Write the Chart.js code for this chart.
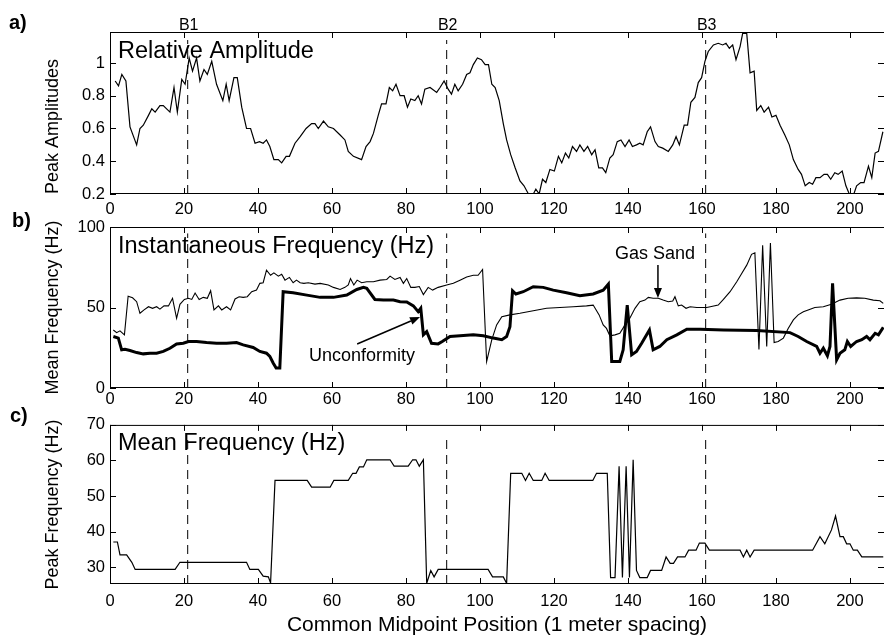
<!DOCTYPE html>
<html><head><meta charset="utf-8">
<script src="https://cdn.jsdelivr.net/npm/chart.js@4.4.1/dist/chart.umd.min.js"></script>
<style>
html,body{margin:0;padding:0;background:#fff;width:884px;height:641px;overflow:hidden;}
.pc{position:absolute;left:0;}
.lab{position:absolute;font:bold 20px 'Liberation Sans',Arial,sans-serif;line-height:20px;color:#000;}
</style></head><body>
<canvas id="ca" class="pc" width="884" height="222" style="top:0px"></canvas>
<canvas id="cb" class="pc" width="884" height="198" style="top:212px"></canvas>
<canvas id="cc" class="pc" width="884" height="231" style="top:410px"></canvas>
<div class="lab" style="left:9px;top:12px">a)</div>
<div class="lab" style="left:12px;top:210px">b)</div>
<div class="lab" style="left:10px;top:405px">c)</div>
<script>
// ---------- data ----------
const cmpTicks = [0,20,40,60,80,100,120,140,160,180,200];
const ampTicks = [0.2,0.4,0.6,0.8,1];
const instTicks = [0,50,100];
const meanTicks = [30,40,50,60,70];
const boundaryPos = [21,91,161];
const boundaryLabels = ['B1','B2','B3'];
const panelTitles = ['Relative Amplitude','Instantaneous Frequency (Hz)','Mean Frequency (Hz)'];
const yTitles = ['Peak Amplitudes','Mean Frequency (Hz)','Peak Frequency (Hz)'];
const xTitle = 'Common Midpoint Position (1 meter spacing)';
const annotTexts = ['Gas Sand','Unconformity'];

const ampX = [1.4,2.3,3.2,4.3,5.4,7.2,8.1,9.0,10.4,11.3,12.2,13.5,14.4,16.2,17.3,18.2,19.4,20.3,21.4,22.3,23.4,24.3,25.4,26.3,27.5,28.8,30.5,31.4,32.2,33.5,34.4,35.6,36.9,38.0,39.2,40.4,41.4,42.3,43.2,44.3,45.5,46.4,47.6,48.5,50.0,51.4,53.0,54.5,55.4,56.3,57.7,59.0,60.4,62.2,63.5,64.4,65.8,68.0,69.2,70.3,71.2,72.5,73.4,74.6,75.5,76.4,77.3,78.4,79.5,80.4,81.3,82.4,83.3,84.2,85.1,86.5,88.3,
89.2,90.3,91.4,92.3,93.2,94.1,95.3,96.4,97.3,98.2,99.3,100.4,101.4,102.3,103.2,104.1,105.2,106.3,107.2,108.3,109.5,110.8,111.9,113.1,114.2,115.1,116.0,116.9,117.8,118.9,120.1,121.2,122.1,123.1,124.0,125.0,126.1,127.0,128.1,129.1,130.2,131.1,132.1,133.1,134.0,135.1,136.0,137.1,138.1,139.2,140.3,141.2,142.3,143.2,144.1,145.2,146.1,147.3,148.2,149.4,150.9,152.1,153.0,153.9,155.2,156.1,157.0,158.1,159.0,159.9,160.8,161.7,163.1,164.4,165.6,166.5,167.4,168.3,169.2,170.3,171.0,172.1,173.0,174.1,174.8,175.9,176.8,178.0,178.9,180.0,181.1,182.4,183.6,184.7,186.0,186.9,187.9,189.0,189.9,190.8,191.9,193.0,193.9,194.8,195.9,196.8,197.9,198.9,200.0,200.9,201.8,202.9,203.8,205.0,205.9,206.8,207.7,208.9];
const ampY = [0.89,0.86,0.93,0.89,0.61,0.50,0.60,0.62,0.68,0.72,0.70,0.74,0.74,0.70,0.85,0.70,0.90,0.87,1.03,0.95,1.03,0.89,0.96,0.93,1.01,0.87,0.77,0.87,0.77,0.91,0.91,0.73,0.60,0.60,0.51,0.52,0.51,0.53,0.49,0.41,0.41,0.39,0.43,0.43,0.51,0.55,0.60,0.63,0.63,0.60,0.645,0.61,0.60,0.56,0.53,0.46,0.43,0.41,0.49,0.52,0.57,0.68,0.75,0.75,0.85,0.83,0.87,0.80,0.80,0.73,0.78,0.77,0.80,0.75,0.84,0.85,0.82,
0.85,0.89,0.84,0.81,0.87,0.83,0.87,0.93,0.94,0.99,1.03,1.02,0.99,0.99,0.87,0.85,0.77,0.63,0.53,0.44,0.36,0.28,0.25,0.20,0.19,0.23,0.20,0.29,0.27,0.35,0.34,0.43,0.39,0.45,0.42,0.49,0.46,0.50,0.46,0.49,0.44,0.47,0.36,0.36,0.33,0.42,0.44,0.52,0.53,0.49,0.53,0.49,0.50,0.51,0.50,0.58,0.61,0.52,0.49,0.48,0.46,0.50,0.55,0.50,0.62,0.62,0.76,0.79,0.88,0.91,1.01,1.07,1.11,1.12,1.11,1.12,1.09,1.11,1.02,1.10,1.18,1.18,0.94,0.95,0.71,0.74,0.70,0.73,0.67,0.68,0.62,0.56,0.50,0.41,0.35,0.32,0.25,0.27,0.26,0.30,0.30,0.32,0.32,0.29,0.33,0.32,0.34,0.25,0.19,0.19,0.25,0.27,0.27,0.37,0.30,0.45,0.46,0.58];

// instantaneous frequency, thin trace
const instX = [0.9,1.8,2.7,3.9,4.9,6.1,7.2,8.1,9.2,10.4,11.5,12.6,13.5,14.6,15.8,16.9,18.0,18.9,20.1,21.2,22.1,23.0,24.1,25.2,26.3,27.2,28.1,29.3,30.2,31.5,32.6,33.8,34.9,36.0,37.1,38.3,39.6,40.5,41.4,42.3,43.4,44.3,45.5,46.4,47.3,48.5,49.5,50.4,51.4,52.4,53.6,55.4,56.8,59.0,60.4,62.2,63.5,64.4,65.0,65.9,66.8,68.0,69.4,71.2,73.0,74.8,75.7,77.0,78.4,79.3,80.2,81.3,82.4,83.6,84.7,86.0,87.2,88.7,
91.0,92.8,94.6,96.4,98.2,99.5,100.7,101.8,103.2,104.5,105.9,108.1,110.8,114.4,118.0,121.6,125.2,128.8,130.6,132.2,133.3,134.2,135.1,136.5,137.8,139.2,140.5,141.9,143.2,144.6,145.5,146.8,148.2,149.5,150.9,152.1,152.7,153.6,154.5,155.7,156.8,158.6,161.3,164.4,165.8,167.6,169.4,170.7,172.1,173.4,174.3,175.4,176.4,177.5,178.5,179.5,180.6,182.0,183.3,184.7,186.0,187.4,188.7,190.5,192.8,195.0,197.3,199.5,201.8,204.0,206.3,208.1,209.0];
const instY = [36,34.4,35.5,33,57,56,53.6,46.4,48.5,50.5,49.5,50.5,49,51,51,55.7,43.3,52,55,55.7,55,59,55,56.3,55.7,60.4,48.5,51,48.5,50.5,48.5,55.3,56.7,56.3,56.7,59.8,60.8,65,65.4,73.2,70,71.5,69.5,70.7,67,68.7,65.4,67,65.4,65,65.4,64.5,65,64,62.5,61.2,62.5,64,68,64,67,65.4,66,66,67,67.4,69.5,67.4,68.7,65,68,62.5,62.5,63,58,62.5,60.8,62.5,
64,65,67,69,70,70,73.6,16.5,30,39.2,44.3,45.4,46.4,48,49.5,50,50.5,51,51.5,45.4,39.2,37,32.4,33,34,39.2,43.3,49.5,53.6,54.6,56.3,55.7,55.7,54.6,53.6,54,56.7,51,51.5,49.5,50.5,50,50,51.5,55,59.8,66,71,76.3,83,84,24,88.7,25.8,90,28.2,28.9,31,37,42.3,45.4,47.4,48.5,50,50.5,52,54.6,55.7,56,55.7,54.6,54.2,52.6];

// mean frequency, thick trace
const thickX = [0.9,2.25,3.15,4.05,5.4,7.2,9.0,10.8,12.6,14.4,16.2,18.0,19.8,21.2,23.4,26.1,28.8,31.5,34.2,36.0,38.7,40.5,42.3,43.2,44.1,44.9,45.9,46.8,49.5,53.2,56.8,60.4,64.0,66.7,68.5,69.4,71.6,73.9,76.6,78.4,80.2,82.0,83.3,84.0,84.7,85.6,86.9,88.7,
89.8,91.9,94.6,98.2,100.9,103.6,105.9,107.2,108.1,108.8,109.7,111.7,114.4,117.1,119.8,123.4,127.0,130.6,133.3,134.7,135.6,137.8,138.7,139.8,141.0,142.3,143.7,145.8,146.8,148.6,150.5,153.2,155.9,159.5,165.8,174.8,183.8,186.0,188.3,191.0,191.9,192.8,193.9,194.6,195.3,196.4,197.3,198.6,199.3,200.2,201.8,203.2,204.5,205.4,206.8,207.7,209.0];
const thickY = [32,31,23.7,24,23.3,22,21.2,21.6,21.6,22.7,24.7,27.4,27.8,28.9,28.9,28.2,27.8,27.8,28.2,26.8,25.2,22.7,21.6,19.6,15.5,12.4,12.4,59.8,59.2,57.7,56.3,56.3,57.7,61.2,62.5,61.9,55,54.6,54.6,53.6,53.4,51,47.4,49.5,33,35,27.8,27.4,
28.9,32,32.4,33,32.4,31,30,32,38,60.4,58.4,59.8,62.9,62.5,60.8,59.2,57.3,58.4,60.8,64.5,16.5,16.5,23.7,51.5,20.6,22.7,27.8,36,23.7,25.8,30,33,36.5,36.5,36,35.7,34.4,32,28.9,25.8,21.6,24.7,20,25.8,65,17.5,21.6,23.7,28.9,25.8,28.9,30,32,30,34,33,37.7];

// peak frequency (panel c)
const peakX = [0.9,2.0,2.7,4.5,5.9,6.8,17.6,18.9,36.9,37.8,40.1,41.4,42.8,43.4,44.6,53.3,54.5,59.5,60.5,64.4,65.6,66.5,67.4,68.5,69.4,75.7,76.8,80.6,81.8,82.7,83.6,84.7,85.6,86.7,87.6,88.7,102.2,103.4,106.3,107.2,108.3,111.3,112.3,113.3,114.4,116.7,117.6,118.7,130.5,131.5,134.4,135.3,136.5,137.6,138.5,139.5,140.4,141.4,142.3,143.2,145.2,146.1,149.1,150.3,151.4,152.3,153.4,155.4,156.4,158.4,159.3,160.8,162.0,170.3,171.2,172.1,173.0,174.1,189.9,191.9,193.2,195.0,196.1,197.3,198.2,199.1,200.0,200.9,202.0,203.2,209.0];
const peakY = [37.1,37.1,33.5,33.5,31.4,29.4,29.4,31.4,31.4,29.4,29.4,27.5,27.3,25.6,54.4,54.4,52.5,52.5,54.4,54.4,56.4,56.4,58.2,58.2,60.2,60.2,58.4,58.4,60.2,60.2,58.4,60.2,25.5,29.1,27.3,29.4,29.4,27.3,27.3,25.5,56.4,56.4,54.4,56.4,54.4,54.4,56.4,54.4,54.4,56.4,56.4,27.1,27.1,58.4,27.1,58.4,27.1,60.2,29.1,27.1,27.1,29.1,29.1,32.9,31.1,31.1,32.9,32.9,34.8,34.8,36.8,36.8,34.8,34.8,32.9,34.8,32.9,34.8,34.8,38.6,36.6,40.5,44.4,38.6,38.6,36.6,36.6,34.8,34.8,32.9,32.9];

// annotation anchor points (data coordinates, panel b)
const gasSandText = [147.3, 83.5];
const gasSandArrow = [[148.1, 76.4],[148.1, 55.9]];
const unconfText = [68.1, 19.9];
const unconfArrow = [[66.8, 27.3],[83.8, 44.1]];

// ---------- rendering ----------
const FONT = "'Liberation Sans', Arial, Helvetica, sans-serif";
Chart.defaults.font.family = FONT;
Chart.defaults.color = '#000';

function pts(xs, ys){ return xs.map((x,i)=>({x:x, y:ys[i]})); }

function arrow(ctx, x0,y0,x1,y1){
  ctx.beginPath(); ctx.moveTo(x0,y0);
  const ang = Math.atan2(y1-y0, x1-x0);
  const L = 10, W = 4;
  const bx = x1 - L*Math.cos(ang), by = y1 - L*Math.sin(ang);
  ctx.lineTo(bx,by); ctx.lineWidth = 1.5; ctx.stroke();
  ctx.beginPath(); ctx.moveTo(x1,y1);
  ctx.lineTo(bx - W*Math.sin(ang), by + W*Math.cos(ang));
  ctx.lineTo(bx + W*Math.sin(ang), by - W*Math.cos(ang));
  ctx.closePath(); ctx.fill();
}

const framePlugin = {
  id: 'frame',
  afterDraw(chart, args, o){
    const {ctx, chartArea:a} = chart;
    const xs = chart.scales.x, ys = chart.scales.y;
    ctx.save();
    ctx.strokeStyle = '#000'; ctx.fillStyle = '#000'; ctx.lineWidth = 1;
    ctx.strokeRect(a.left+0.5, a.top+0.5, a.right-a.left, a.bottom-a.top-1);
    ctx.beginPath();
    xs.ticks.forEach(t=>{
      const px = Math.round(xs.getPixelForValue(t.value))+0.5;
      ctx.moveTo(px, a.bottom); ctx.lineTo(px, a.bottom-6);
      ctx.moveTo(px, a.top); ctx.lineTo(px, a.top+6);
    });
    ys.ticks.forEach(t=>{
      const py = Math.round(ys.getPixelForValue(t.value))+0.5;
      ctx.moveTo(a.left, py); ctx.lineTo(a.left+6, py);
      ctx.moveTo(a.right, py); ctx.lineTo(a.right-6, py);
    });
    ctx.stroke();
    ctx.font = '23.5px ' + FONT; ctx.textAlign = 'left'; ctx.textBaseline = 'alphabetic';
    ctx.fillText(o.title, a.left+8, a.top+25.5);
    if (o.bLabels){
      ctx.font = '16px ' + FONT; ctx.textAlign = 'center'; ctx.textBaseline = 'middle';
      boundaryPos.forEach((p,i)=> ctx.fillText(boundaryLabels[i], xs.getPixelForValue(p)+1, a.top-6.5));
    }
    if (o.annot){
      ctx.font = '18px ' + FONT; ctx.textAlign = 'center'; ctx.textBaseline = 'middle';
      ctx.fillText(annotTexts[0], xs.getPixelForValue(gasSandText[0]), ys.getPixelForValue(gasSandText[1]));
      ctx.fillText(annotTexts[1], xs.getPixelForValue(unconfText[0]), ys.getPixelForValue(unconfText[1]));
      const P = p => [xs.getPixelForValue(p[0]), ys.getPixelForValue(p[1])];
      let s = P(gasSandArrow[0]), e = P(gasSandArrow[1]); arrow(ctx, s[0], s[1], e[0], e[1]);
      s = P(unconfArrow[0]); e = P(unconfArrow[1]); arrow(ctx, s[0], s[1], e[0], e[1]);
    }
    ctx.restore();
  }
};

function boundaryDatasets(yMin, yMax){
  return boundaryPos.map(p=>({data:[{x:p,y:yMin},{x:p,y:yMax}], borderColor:'#000', borderWidth:1, borderDash:[9,6], pointRadius:0, fill:false}));
}

function makePanel(id, c){
  return new Chart(document.getElementById(id), {
    type: 'line',
    data: { datasets: c.datasets },
    options: {
      responsive: false, animation: false, events: [],
      layout: { padding: { top: c.padTop, right: 0, left: 0, bottom: 0 } },
      plugins: { legend: { display: false }, tooltip: { enabled: false }, frame: c.frame },
      scales: {
        x: {
          type: 'linear', min: 0, max: 209.2,
          grid: { display: false, drawTicks: false }, border: { display: false },
          afterBuildTicks: s => { s.ticks = cmpTicks.map(v=>({value:v})); },
          afterFit: s => { s.height = c.xHeight; },
          ticks: { padding: c.xTickPad, font: { size: 16.5 }, color: '#000', maxRotation: 0, autoSkip: false, callback: v => String(v) },
          title: c.xTitle ? { display: true, text: c.xTitle, font: { size: 21 }, color: '#000', padding: { top: 0, bottom: 3 } } : { display: false }
        },
        y: {
          type: 'linear', min: c.yMin, max: c.yMax,
          grid: { display: false, drawTicks: false }, border: { display: false },
          afterBuildTicks: s => { s.ticks = c.yTicks.map(v=>({value:v})); },
          afterFit: s => { s.width = 110; },
          ticks: { padding: 5, font: { size: 16.5 }, color: '#000', autoSkip: false, callback: v => String(v) },
          title: { display: true, text: c.yTitle, align: c.yAlign, font: { size: 18 }, color: '#000', padding: { top: 42, bottom: 0 } }
        }
      }
    },
    plugins: [framePlugin]
  });
}

const lineStyle = w => ({borderColor:'#000', borderWidth:w, pointRadius:0, fill:false, tension:0});

makePanel('ca', {
  padTop: 32, xHeight: 28, xTickPad: 6, yMin: 0.2, yMax: 1.189, yTicks: ampTicks,
  yTitle: yTitles[0], yAlign: 'start',
  frame: { title: panelTitles[0], bLabels: true },
  datasets: [Object.assign({data: pts(ampX, ampY)}, lineStyle(1.2))].concat(boundaryDatasets(0.2, 1.14))
});
makePanel('cb', {
  padTop: 15, xHeight: 22, xTickPad: 2, yMin: 0, yMax: 100, yTicks: instTicks,
  yTitle: yTitles[1], yAlign: 'center',
  frame: { title: panelTitles[1], annot: true },
  datasets: [Object.assign({data: pts(instX, instY)}, lineStyle(1.1)),
             Object.assign({data: pts(thickX, thickY)}, lineStyle(3))].concat(boundaryDatasets(0, 96))
});
makePanel('cc', {
  padTop: 12, xHeight: 57, xTickPad: 8, yMin: 25.3, yMax: 70, yTicks: meanTicks,
  yTitle: yTitles[2], yAlign: 'center', xTitle: xTitle,
  frame: { title: panelTitles[2] },
  datasets: [Object.assign({data: pts(peakX, peakY)}, lineStyle(1.2))].concat(boundaryDatasets(25.3, 67))
});
</script>
</body></html>
